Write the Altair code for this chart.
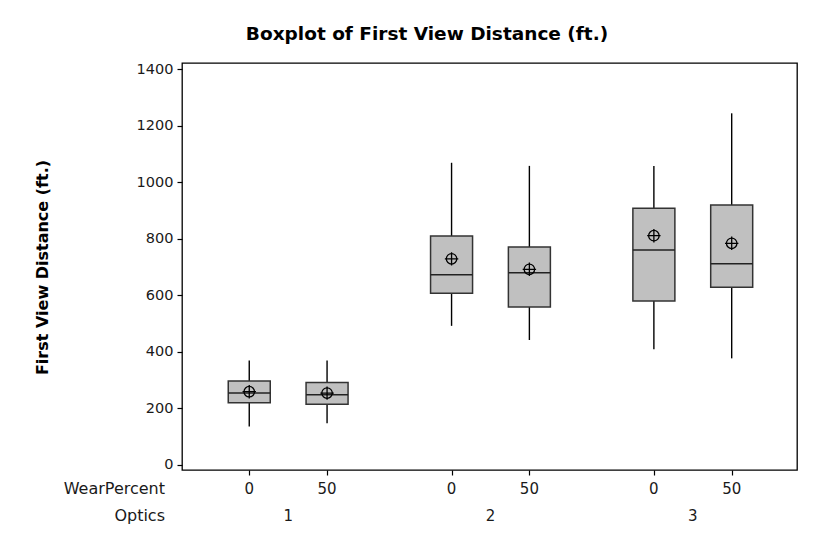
import altair as alt
import pandas as pd

# ---- data ----
optics = ["1", "1", "2", "2", "3", "3"]
wear = ["0", "50", "0", "50", "0", "50"]
lower = [136, 147, 492, 442, 409, 377]
q1 = [220, 215, 607, 559, 580, 629]
median = [254, 248, 673, 680, 760, 712]
q3 = [297, 292, 810, 771, 908, 920]
upper = [369, 369, 1069, 1058, 1058, 1244]
mean = [259, 254, 729, 692, 811, 784]
y_ticks = [0, 200, 400, 600, 800, 1000, 1200, 1400]
row_labels = ["WearPercent", "Optics"]
title_text = "Boxplot of First View Distance (ft.)"
y_title = "First View Distance (ft.)"

GROUP_GAP = 2.6
opt_levels = sorted(set(optics))
wear_levels = sorted(set(wear), key=float)
pos = [opt_levels.index(o) * GROUP_GAP + wear_levels.index(w) for o, w in zip(optics, wear)]

df = pd.DataFrame({
    "optics": optics, "wear": wear, "pos": pos,
    "lower": lower, "q1": q1, "median": median, "q3": q3, "upper": upper, "mean": mean,
})

W, H = 615, 407
FONT = "DejaVu Sans"
TXT = "#1a1a1a"

xs = alt.Scale(domain=[-0.8, 6.975], nice=False, zero=False)
ys = alt.Scale(domain=[-18, 1422], nice=False, zero=False)

base = alt.Chart(df)

x_enc = alt.X("pos:Q", scale=xs,
              axis=alt.Axis(values=pos, labels=False, title=None, grid=False, domain=False,
                            ticks=True, tickSize=5, tickColor="black", tickWidth=1.2))

whisk = base.mark_rule(color="black", strokeWidth=1.4).encode(
    x=x_enc,
    y=alt.Y("lower:Q", scale=ys,
            axis=alt.Axis(values=y_ticks, format="d", title=None, grid=False, domain=False,
                          tickSize=5, tickColor="black", tickWidth=1.2,
                          labelFont=FONT, labelFontSize=14.5, labelColor=TXT, labelPadding=4)),
    y2="upper:Q",
)

box = base.mark_bar(width=42, color="#C0C0C0", stroke="#333333", strokeWidth=1.5).encode(
    x="pos:Q", y="q1:Q", y2="q3:Q"
)

med = base.mark_tick(orient="horizontal", size=42, thickness=1.5, color="#222222", opacity=1).encode(
    x="pos:Q", y="median:Q"
)

mean_circle = base.mark_point(shape="circle", size=110, filled=False, color="black",
                              strokeWidth=1.3, opacity=1).encode(x="pos:Q", y="mean:Q")
mean_cross = base.mark_point(shape="M-1,0H1M0,-1V1", size=180, filled=False, color="black",
                             strokeWidth=1.3, opacity=1).encode(x="pos:Q", y="mean:Q")

wear_lbl = base.mark_text(font=FONT, fontSize=15, color=TXT, baseline="alphabetic").encode(
    x="pos:Q", y=alt.value(H + 24), text="wear:N"
)

opt_lbl = base.transform_aggregate(
    center="mean(pos)", groupby=["optics"]
).mark_text(font=FONT, fontSize=15, color=TXT, baseline="alphabetic").encode(
    x="center:Q", y=alt.value(H + 51), text="optics:N"
)

rows_df = pd.DataFrame({"label": row_labels, "dy": [H + 24, H + 51]})
row_lbl = alt.Chart(rows_df).mark_text(font=FONT, fontSize=16, color=TXT, align="right",
                                       baseline="alphabetic").encode(
    x=alt.value(-17), y=alt.Y("dy:Q", scale=None), text="label:N"
)

title_df = pd.DataFrame({"t": [title_text]})
title = alt.Chart(title_df).mark_text(font=FONT, fontSize=18.5, fontWeight="bold", color="black",
                                      baseline="alphabetic").encode(
    x=alt.value(245), y=alt.value(-23), text="t:N"
)

yt_df = pd.DataFrame({"t": [y_title]})
ytitle = alt.Chart(yt_df).mark_text(font=FONT, fontSize=16, fontWeight="bold", color="black",
                                    angle=270, baseline="middle").encode(
    x=alt.value(-139), y=alt.value(H / 2 + 1), text="t:N"
)

chart = alt.layer(whisk, box, med, mean_circle, mean_cross, wear_lbl, opt_lbl, row_lbl, title, ytitle).properties(
    width=W, height=H,
    padding={"left": 174, "top": 55, "right": 24, "bottom": 58},
    autosize=alt.AutoSizeParams(type="none"),
    background="white",
).configure_view(stroke="black", strokeWidth=1.3)

chart.save("out.html", embed_options={"renderer": "svg", "actions": False})
